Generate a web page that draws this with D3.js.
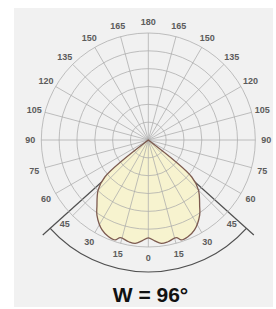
<!DOCTYPE html>
<html>
<head>
<meta charset="utf-8">
<script src="https://cdn.jsdelivr.net/npm/d3@7"></script>
<style>
  html, body { margin: 0; padding: 0; background: #fff; }
  svg { display: block; }
</style>
</head>
<body>
<svg id="chart" width="276" height="309"></svg>
<script>
// polar grid
var ringValues = [100, 200, 300, 400, 500, 600]
var spokeAngles = d3.range(0, 360, 15)
var angleLabels = [0, 15, 30, 45, 60, 75, 90, 105, 120, 135, 150, 165, 180]

// light distribution, one half (degrees from nadir, intensity)
var curveAngles = [0, 3.6, 7.2, 10.9, 16, 18.3, 22.3, 27.2, 34.4, 37.7, 45, 49.6, 52]
var curveValues = [549, 567, 584, 581, 570, 590, 586, 567, 510, 471, 398, 320, 0]

var beamAngle = 96
var title = 'W = ' + beamAngle + '°'

var w = 276, h = 309
var cx = 148.3, cy = 140

var svg = d3.select('#chart')

svg.append('rect').attr('x', 14).attr('y', 8).attr('width', 259).attr('height', 299)
    .style('fill', '#f1f1f1')

var g = svg.append('g').attr('transform', `translate(${cx},${cy})`)

var rs = d3.scaleLinear().domain([0, 600]).range([0, 107])
var rad = d => (180 - d) * Math.PI / 180

// build full curve: right half mirrored onto the left
var pts = []
curveAngles.forEach((a, i) => pts.push({a: -a, v: curveValues[i]}))
pts.reverse()
curveAngles.forEach((a, i) => { if (a > 0) pts.push({a: a, v: curveValues[i]}) })

var line = d3.lineRadial()
    .angle(d => rad(d.a))
    .radius(d => rs(d.v))
    .curve(d3.curveCatmullRom.alpha(0.5))

// bracket for beam width
var half = beamAngle / 2
var bracket = g.append('g').style('stroke', '#505050').style('stroke-width', 1.2).style('fill', 'none')
;[-half, half].forEach(a => {
    var p = d3.pointRadial(rad(a), 142)
    bracket.append('line').attr('x1', 0).attr('y1', 0).attr('x2', p[0]).attr('y2', p[1])
})
bracket.append('path')
    .attr('d', d3.arc().innerRadius(132).outerRadius(132)
        .startAngle(rad(half)).endAngle(rad(-half))())

// fill
g.append('path').attr('d', line(pts) + 'Z')
    .style('fill', '#f7f3cf').style('stroke', 'none')

// grid
var grid = g.append('g').style('stroke', '#ababab').style('stroke-width', 0.75).style('fill', 'none')
grid.selectAll('circle').data(ringValues).enter().append('circle')
    .attr('r', d => rs(d))
spokeAngles.forEach(a => {
    var p = d3.pointRadial(rad(a), rs(600))
    grid.append('line').attr('x1', 0).attr('y1', 0).attr('x2', p[0]).attr('y2', p[1])
})

// outline
g.append('path').attr('d', line(pts) + 'Z')
    .style('fill', 'none').style('stroke', '#7d5b50').style('stroke-width', 1.3)
    .style('stroke-linejoin', 'round')

// angle labels
var labs = []
angleLabels.forEach(a => {
    labs.push(a)
    if (a > 0 && a < 180) labs.push(-a)
})
g.selectAll('.alab').data(labs).enter().append('text')
    .attr('class', 'alab')
    .attr('x', d => d3.pointRadial(rad(d), 118)[0])
    .attr('y', d => d3.pointRadial(rad(d), 118)[1])
    .attr('dy', '0.35em')
    .attr('text-anchor', 'middle')
    .style('font-family', 'Liberation Sans, Arial, sans-serif')
    .style('font-weight', 'bold')
    .style('font-size', '9px')
    .style('fill', '#5c5c5c')
    .text(d => Math.abs(d))

svg.append('text').attr('x', 150.5).attr('y', 302)
    .attr('text-anchor', 'middle')
    .style('font-family', 'Liberation Sans, Arial, sans-serif')
    .style('font-weight', 'bold')
    .style('font-size', '21px')
    .style('fill', '#111')
    .text(title)
</script>
</body>
</html>
